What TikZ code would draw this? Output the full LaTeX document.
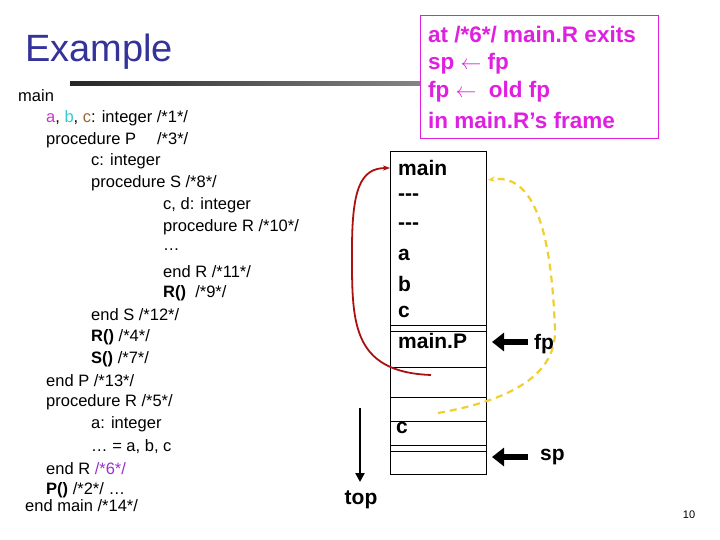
\documentclass[tikz,border=0pt]{standalone}
\usepackage{fontspec}
\setmainfont{Liberation Sans}
\usetikzlibrary{arrows.meta}
\definecolor{titleblue}{HTML}{333399}
\definecolor{mag}{HTML}{E020E0}
\definecolor{ca}{HTML}{CC33CC}
\definecolor{cb}{HTML}{33CCCC}
\definecolor{cc}{HTML}{996633}
\definecolor{c6}{HTML}{9933CC}
\definecolor{darkred}{HTML}{AA1111}
\definecolor{yel}{HTML}{F0D030}
\begin{document}
\begin{tikzpicture}[x=1pt,y=-1pt,
  code/.style={anchor=west,inner sep=0pt,font=\fontsize{16.5}{18}\selectfont},
  stk/.style={anchor=west,inner sep=0pt,font=\bfseries\fontsize{21}{24}\selectfont},
  boxt/.style={anchor=west,inner sep=0pt,font=\bfseries\fontsize{22.5}{26}\selectfont,text=mag},
  bigarrow/.style={line width=6pt,-{Triangle[length=12pt,width=18pt]}}]
\useasboundingbox (0,0) rectangle (720,540);
\node[anchor=west,inner sep=0pt,text=titleblue,font=\fontsize{38}{42}\selectfont] (title) at (25,52) {Example};
\shade[left color=black!85,right color=black!25] (70,82) rectangle (640,86);
% code
\node[code] (l0) at (18,96) {main};
\node[code] (l1) at (46,117.9) {\textcolor{ca}{a}, \textcolor{cb}{b}, \textcolor{cc}{c}: integer /*1*/};
\node[code] (l2) at (46,139.8) {procedure P\quad\ /*3*/};
\node[code] (l3) at (91,161.7) {c: integer};
\node[code] (l4) at (91,183.6) {procedure S /*8*/};
\node[code] (l5) at (163,205.5) {c, d: integer};
\node[code] (l6) at (163,227.4) {procedure R /*10*/};
\node[code] (l7) at (163,249.3) {…};
\node[code] (l8) at (163,271.2) {end R /*11*/};
\node[code] (l9) at (163,293.1) {\textbf{R()}\ \ /*9*/};
\node[code] (l10) at (91,315) {end S /*12*/};
\node[code] (l11) at (91,336.9) {\textbf{R()} /*4*/};
\node[code] (l12) at (91,358.8) {\textbf{S()} /*7*/};
\node[code] (l13) at (46,380.7) {end P /*13*/};
\node[code] (l14) at (46,402.6) {procedure R /*5*/};
\node[code] (l15) at (91,424.5) {a: integer};
\node[code] (l16) at (91,446.4) {… = a, b, c};
\node[code] (l17) at (46,468.3) {end R \textcolor{c6}{/*6*/}};
\node[code] (l18) at (46,490.2) {\textbf{P()} /*2*/ …};
\node[code] (l19) at (25,506) {end main /*14*/};
% magenta box
\draw[mag,fill=white] (420,15) rectangle (658,138);
\node[boxt] (b1) at (428,35) {at /*6*/ main.R exits};
\node[boxt] (b2) at (428,64) {sp $\leftarrow$ fp};
\node[boxt] (b3) at (428,92) {fp $\leftarrow$\ \ old fp};
\node[boxt] (b4) at (428,120) {in main.R’s frame};
% stack
\draw (390,151) rectangle (486,474);
\foreach \yy in {325,331,367,397,421,445,451} \draw (390,\yy) -- (486,\yy);
\node[stk] (smain) at (398,168) {main};
\node[stk] (sd1) at (398,197) {-{}-{}-};
\node[stk] (sd2) at (398,226) {-{}-{}-};
\node[stk] (sa) at (398,255) {a};
\node[stk] (sb) at (398,284) {b};
\node[stk] (sc) at (398,312) {c};
\node[stk] (smp) at (398,341) {main.P};
\node[stk] (sc2) at (396,428) {c};
\coordinate (redstart) at (431,375);
\coordinate (redend) at (390,168);
\draw[darkred,line width=1.8pt,-{Stealth[length=7pt]}] (redstart) .. controls (350,372) and (352,320) .. (352,250) .. controls (352,190) and (360,168) .. (redend);
\coordinate (ystart) at (438,413);
\coordinate (yend) at (488,180);
\draw[yel,line width=2.2pt,dash pattern=on 7pt off 5pt,-{Stealth[length=7pt]}] (ystart) .. controls (500,402) and (556,380) .. (555,330) .. controls (552,250) and (540,172) .. (yend);
% pointers
\node[stk,anchor=west] (fp) at (534,344) {fp};
\node[stk,anchor=west] (sp) at (540,457) {sp};
\draw[bigarrow] (528,342) -- (492,342);
\draw[bigarrow] (528,457) -- (492,457);
\node[stk,anchor=center] (top) at (361,500) {top};
\draw[line width=2.5pt,-{Triangle[length=9pt,width=9pt]}] (360,408) -- (360,482);
\node[inner sep=0pt,font=\fontsize{11}{12}\selectfont] (pg) at (689,515) {10};
\end{tikzpicture}
\end{document}
